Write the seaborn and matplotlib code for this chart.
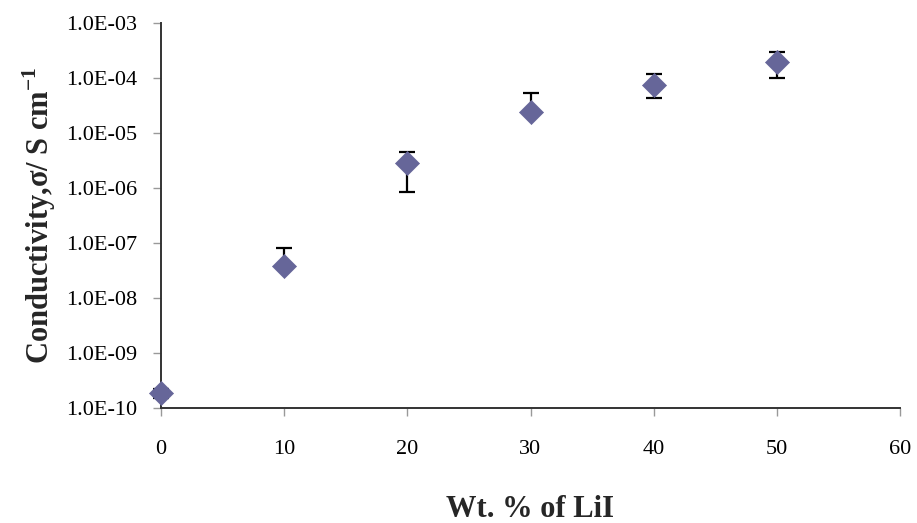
import numpy as np
import pandas as pd
import matplotlib
matplotlib.use("Agg")
import matplotlib.pyplot as plt
import seaborn as sns
from matplotlib.ticker import FixedLocator, NullLocator

wt_lii = [0, 10, 20, 30, 40, 50]
conductivity = [1.9e-10, 3.8e-8, 2.85e-6, 2.4e-5, 7.5e-5, 1.95e-4]
err_upper = [2.2e-10, 8.1e-8, 4.5e-6, 5.3e-5, 1.18e-4, 2.97e-4]
err_lower = [1.5e-10, 3.8e-8, 8.5e-7, 2.4e-5, 4.3e-5, 1.0e-4]
y_ticks = [1e-10, 1e-9, 1e-8, 1e-7, 1e-6, 1e-5, 1e-4, 1e-3]
y_tick_labels = ["1.0E-10", "1.0E-09", "1.0E-08", "1.0E-07",
                 "1.0E-06", "1.0E-05", "1.0E-04", "1.0E-03"]
x_ticks = [0, 10, 20, 30, 40, 50, 60]

df = pd.DataFrame({"wt": wt_lii, "sigma": conductivity})

sns.set_theme(style="white")
plt.rcParams["font.family"] = ["Liberation Serif", "DejaVu Serif"]
plt.rcParams["mathtext.fontset"] = "custom"
plt.rcParams["mathtext.rm"] = "Liberation Serif"
plt.rcParams["mathtext.bf"] = "Liberation Serif:bold"

fig = plt.figure(figsize=(9.17, 5.23), dpi=100)
ax = fig.add_axes([161 / 917, 1 - 408 / 523, 739 / 917, 385 / 523])

yerr = np.array([np.array(conductivity) - np.array(err_lower),
                 np.array(err_upper) - np.array(conductivity)])
ax.errorbar(wt_lii, conductivity, yerr=yerr, fmt="none", ecolor="black",
            elinewidth=1.6, capsize=6, capthick=1.6, zorder=2, clip_on=False)
sns.scatterplot(data=df, x="wt", y="sigma", marker="D", s=150, color="#666699",
                edgecolor="#666699", linewidth=0.5, ax=ax, zorder=3, clip_on=False)

ax.set_yscale("log")
ax.set_ylim(1e-10, 1e-3)
ax.set_xlim(0, 60)
ax.yaxis.set_major_locator(FixedLocator(y_ticks))
ax.yaxis.set_minor_locator(NullLocator())
ax.set_yticklabels(y_tick_labels)
ax.xaxis.set_major_locator(FixedLocator(x_ticks))

for side in ["top", "right"]:
    ax.spines[side].set_visible(False)
for side in ["left", "bottom"]:
    ax.spines[side].set_color("#333333")
    ax.spines[side].set_linewidth(1.4)

ax.tick_params(axis="both", which="major", direction="out", length=6, width=1.0,
               color="#999999", labelcolor="black", labelsize=16,
               left=True, bottom=True)
ax.tick_params(axis="y", pad=11)
ax.tick_params(axis="x", pad=17)

ax.set_xlabel("Wt. % of LiI", fontsize=22, fontweight="bold", labelpad=26)
ax.set_ylabel(r"Conductivity,σ/ S cm$^{\mathbf{-1}}$", fontsize=22,
              fontweight="bold", labelpad=6)

fig.savefig("out.png", dpi=100)
